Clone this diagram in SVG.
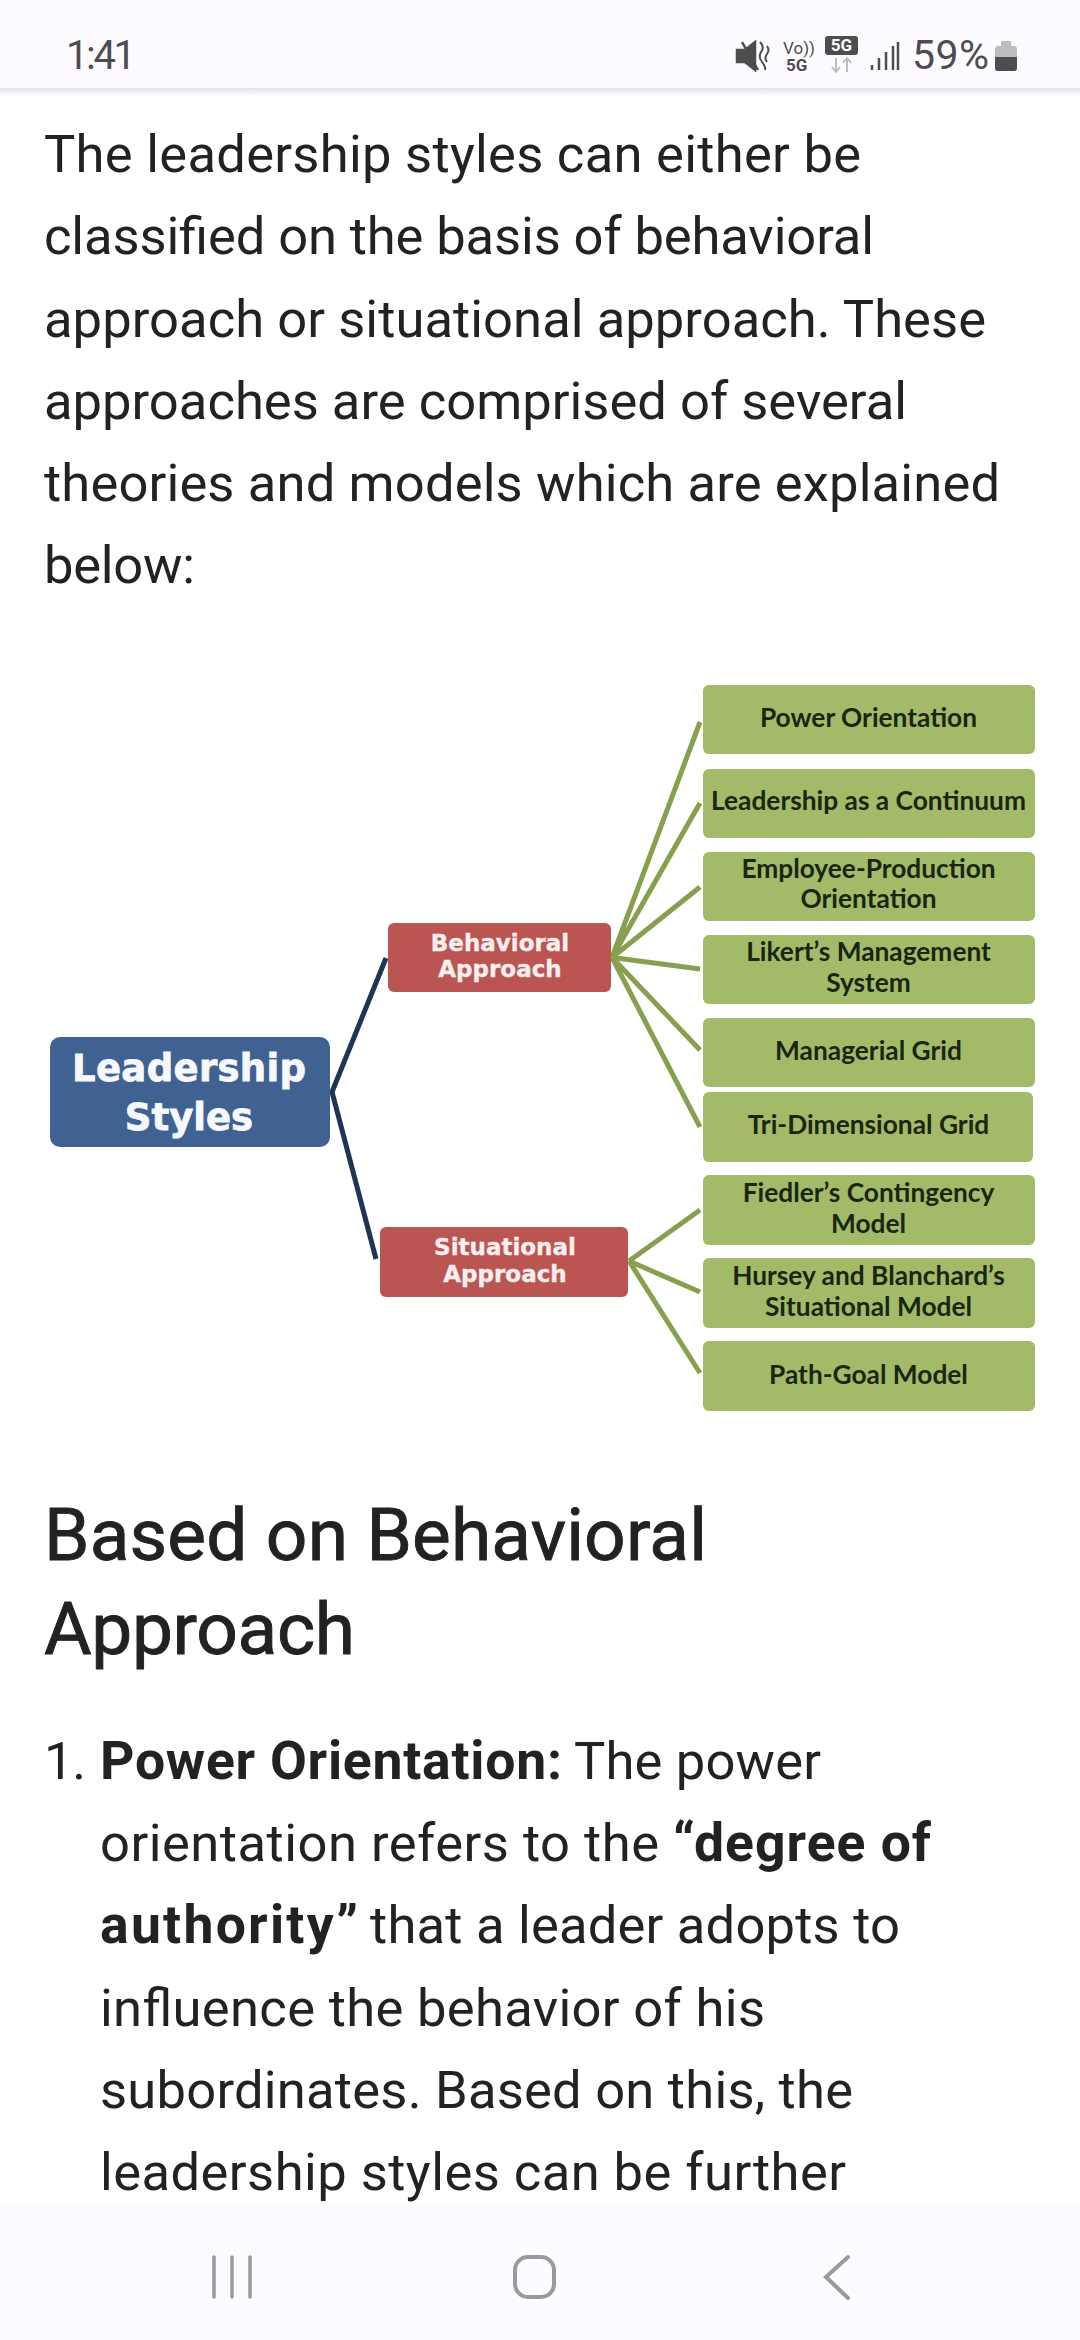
<svg xmlns="http://www.w3.org/2000/svg" width="1080" height="2340" viewBox="0 0 1080 2340">
<defs>
<linearGradient id="shadow" x1="0" y1="0" x2="0" y2="1"><stop offset="0" stop-color="#e4e3e6"/><stop offset="1" stop-color="#ffffff"/></linearGradient>
</defs>
<style>
.body{font-family:Roboto,"Liberation Sans",sans-serif;font-size:52.500px;fill:#222222}
.b{font-weight:700;font-size:53.500px}
.head{font-family:Roboto,"Liberation Sans",sans-serif;font-size:73px;font-weight:400;fill:#222222;stroke:#222222;stroke-width:.9}
.sys{font-family:Roboto,"Liberation Sans",sans-serif;fill:#4d4d4f}
.blue{fill:#3f6293}
.red{fill:#ba5551}
.green{fill:#a3bb68}
.t1{font-family:"DejaVu Sans",sans-serif;font-weight:700;font-size:37px;fill:#f6f8fb;stroke:#f6f8fb;stroke-width:.8;text-anchor:middle}
.t2{font-family:"DejaVu Sans",sans-serif;font-weight:700;font-size:23px;fill:#f8eeee;stroke:#f8eeee;stroke-width:.4;text-anchor:middle}
.t3{font-family:Lato,"Liberation Sans",sans-serif;font-weight:700;font-size:26.300px;fill:#1a2610;text-anchor:middle}
.c1{stroke:#1e3556;stroke-width:5;fill:none}
.c2{stroke:#86a04e;stroke-width:5;fill:none}
.ic{stroke:#9a9a9c;fill:none;stroke-linecap:round}
</style>
<rect width="1080" height="2340" fill="#ffffff"/>
<rect width="1080" height="88" fill="#fdfbff"/>
<rect y="88" width="1080" height="8" fill="url(#shadow)"/>
<text class="sys" x="66" y="69" font-size="40" textLength="70">1:41</text>
<path d="M737 50h8l10-8v28l-10-8h-8z M742 42l16 28" fill="#4d4d4f" stroke="#4d4d4f" stroke-width="2.500"/>
<path d="M760 42q5 5 1 10q-3 5 1 10t3 8M767 46q3 4 0 8q-3 4 0 8" stroke="#4d4d4f" stroke-width="2" fill="none"/>
<text class="sys" x="783" y="54" font-size="17">Vo))</text>
<text class="sys" x="786" y="71" font-size="17" font-weight="700">5G</text>
<rect x="825" y="36" width="33" height="19" rx="3" fill="#4d4d4f"/>
<text x="841.500" y="51" font-family="Roboto,sans-serif" font-size="17" font-weight="700" fill="#fdfbff" text-anchor="middle">5G</text>
<path d="M836 58v14M832 67l4 5 4-5M847 72v-14M843 63l4-5 4 5" stroke="#bdbdbf" stroke-width="2" fill="none"/>
<path d="M872 65v5M879 58v12M886 52v18M893 46v24M898 42v28" stroke="#4d4d4f" stroke-width="2.500" fill="none"/>
<text class="sys" x="912" y="69" font-size="41" textLength="77">59%</text>
<rect x="995" y="46" width="22" height="25" rx="3" fill="#bdbdbf"/>
<rect x="1001" y="41" width="10" height="6" rx="1" fill="#bdbdbf"/>
<path d="M995 57h22v11a3 3 0 0 1-3 3h-16a3 3 0 0 1-3-3z" fill="#4d4d4f"/>
<g id="intro">
<text class="body" x="44" y="171.500" textLength="817">The leadership styles can either be</text>
<text class="body" x="44" y="253.500" textLength="830">classified on the basis of behavioral</text>
<text class="body" x="44" y="336.500" textLength="942">approach or situational approach. These</text>
<text class="body" x="44" y="418.500" textLength="863">approaches are comprised of several</text>
<text class="body" x="44" y="500.500" textLength="956">theories and models which are explained</text>
<text class="body" x="44" y="582.500" textLength="151">below:</text>
</g>
<g id="connectors">
<path class="c1" d="M386 958L332 1092L376 1259"/>
<path class="c2" d="M700 722L612 957.500M700 803L612 957.500M700 887L612 957.500M700 969L612 957.500M700 1050L612 957.500M700 1127L612 957.500"/>
<path class="c2" d="M700 1210L629 1261M700 1292L629 1261M700 1373L629 1261"/>
</g>
<g id="node-leadership-styles"><rect class="blue" x="50" y="1037" width="280" height="110" rx="10"/><text class="t1" x="189" y="1081" textLength="234">Leadership</text><text class="t1" x="189" y="1130">Styles</text></g>
<g id="node-behavioral"><rect class="red" x="388" y="923" width="223" height="69" rx="6"/><text class="t2" x="500" y="951">Behavioral</text><text class="t2" x="500" y="977">Approach</text></g>
<g id="node-situational"><rect class="red" x="380" y="1227" width="248" height="70" rx="6"/><text class="t2" x="505" y="1255">Situational</text><text class="t2" x="505" y="1282">Approach</text></g>
<g id="node-power"><rect class="green" x="703" y="685" width="332" height="69" rx="6"/><text class="t3" x="868.500" y="727">Power Orientation</text></g>
<g id="node-continuum"><rect class="green" x="703" y="769" width="332" height="69" rx="6"/><text class="t3" x="868.500" y="810">Leadership as a Continuum</text></g>
<g id="node-employee"><rect class="green" x="703" y="852" width="332" height="69" rx="6"/><text class="t3" x="868.500" y="878">Employee-Production</text><text class="t3" x="868.500" y="908">Orientation</text></g>
<g id="node-likert"><rect class="green" x="703" y="935" width="332" height="69" rx="6"/><text class="t3" x="868.500" y="961">Likert’s Management</text><text class="t3" x="868.500" y="992">System</text></g>
<g id="node-managerial"><rect class="green" x="703" y="1018" width="332" height="69" rx="6"/><text class="t3" x="868.500" y="1060">Managerial Grid</text></g>
<g id="node-tridimensional"><rect class="green" x="703" y="1092" width="330" height="70" rx="6"/><text class="t3" x="868.500" y="1134">Tri-Dimensional Grid</text></g>
<g id="node-fiedler"><rect class="green" x="703" y="1175" width="332" height="70" rx="6"/><text class="t3" x="868.500" y="1202">Fiedler’s Contingency</text><text class="t3" x="868.500" y="1233">Model</text></g>
<g id="node-hursey"><rect class="green" x="703" y="1258" width="332" height="70" rx="6"/><text class="t3" x="868.500" y="1285">Hursey and Blanchard’s</text><text class="t3" x="868.500" y="1316">Situational Model</text></g>
<g id="node-pathgoal"><rect class="green" x="703" y="1341" width="332" height="70" rx="6"/><text class="t3" x="868.500" y="1384">Path-Goal Model</text></g>
<g id="article">
<text class="head" x="44" y="1560" textLength="663">Based on Behavioral</text>
<text class="head" x="44" y="1654" textLength="311">Approach</text>
<text class="body" x="44" y="1779" textLength="42">1.</text>
<text class="body b" x="100" y="1779" textLength="462">Power Orientation:</text>
<text class="body" x="574" y="1779" textLength="247">The power</text>
<text class="body" x="100" y="1861" textLength="559">orientation refers to the</text>
<text class="body b" x="673" y="1861" textLength="258">“degree of</text>
<text class="body b" x="100" y="1943" textLength="258">authority”</text>
<text class="body" x="370" y="1943" textLength="530">that a leader adopts to</text>
<text class="body" x="100" y="2026" textLength="665">influence the behavior of his</text>
<text class="body" x="100" y="2108" textLength="753">subordinates. Based on this, the</text>
<text class="body" x="100" y="2190" textLength="746">leadership styles can be further</text>
</g>
<rect y="2205" width="1080" height="135" fill="#fdfbff"/>
<path class="ic" stroke-width="3.500" d="M214 2257v40M232 2257v40M250 2257v40"/>
<rect class="ic" stroke-width="4" x="515" y="2257" width="39" height="40" rx="13"/>
<path class="ic" stroke-width="4" d="M848 2257L826 2277L848 2298"/>
</svg>
